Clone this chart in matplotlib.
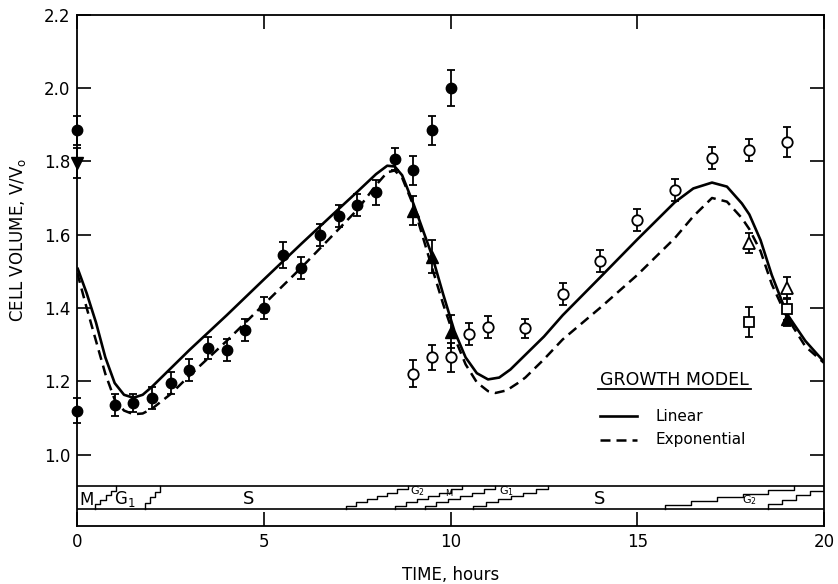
import matplotlib
matplotlib.use("Agg")
import matplotlib.pyplot as plt
import numpy as np

plt.rcParams['font.family'] = ['DejaVu Sans']
plt.rcParams['mathtext.default'] = 'regular'

# ---------------- model curves ----------------
linear_t = [0.0, 0.25, 0.5, 0.75, 1.0, 1.25, 1.5, 1.75, 2.0, 2.5, 3.0, 4.0, 5.0, 6.0, 7.0,
            7.5, 8.0, 8.3, 8.5, 8.7, 9.0, 9.3, 9.5, 9.8, 10.1, 10.4, 10.7, 11.0, 11.3,
            11.6, 12.0, 12.5, 13.0, 14.0, 15.0, 16.0, 16.5, 17.0, 17.4, 17.8, 18.0,
            18.3, 18.6, 19.0, 19.5, 20.0]
linear_v = [1.51, 1.44, 1.36, 1.265, 1.195, 1.163, 1.155, 1.163, 1.185, 1.235, 1.285, 1.38,
            1.478, 1.575, 1.67, 1.717, 1.765, 1.788, 1.786, 1.762, 1.685, 1.60, 1.543,
            1.437, 1.337, 1.265, 1.222, 1.205, 1.21, 1.232, 1.272, 1.322, 1.38, 1.483,
            1.587, 1.688, 1.726, 1.742, 1.731, 1.685, 1.655, 1.585, 1.49, 1.385, 1.31, 1.253]

expo_t = [0.0, 0.25, 0.5, 0.75, 1.0, 1.25, 1.5, 1.75, 2.0, 2.5, 3.0, 4.0, 5.0, 6.0, 7.0,
          7.5, 8.0, 8.3, 8.5, 8.7, 9.0, 9.3, 9.5, 9.8, 10.1, 10.4, 10.7, 11.0, 11.2, 11.5,
          11.8, 12.0, 12.5, 13.0, 14.0, 15.0, 16.0, 16.5, 17.0, 17.4, 17.8, 18.0, 18.3,
          18.6, 19.0, 19.5, 20.0]
expo_v = [1.495, 1.40, 1.31, 1.22, 1.15, 1.12, 1.11, 1.112, 1.125, 1.165, 1.215, 1.31, 1.41,
          1.51, 1.615, 1.668, 1.735, 1.77, 1.775, 1.755, 1.68, 1.578, 1.51, 1.41, 1.32,
          1.246, 1.197, 1.173, 1.168, 1.175, 1.195, 1.21, 1.26, 1.314, 1.40, 1.49, 1.59,
          1.65, 1.70, 1.69, 1.645, 1.615, 1.555, 1.465, 1.376, 1.295, 1.25]

# ---------------- observations ----------------
fcirc_t = [0.0, 0.0, 1.0, 1.5, 2.0, 2.5, 3.0, 3.5, 4.0, 4.5, 5.0, 5.5, 6.0, 6.5, 7.0, 7.5,
           8.0, 8.5, 9.0, 9.5, 10.0]
fcirc_v = [1.12, 1.885, 1.135, 1.14, 1.155, 1.195, 1.23, 1.29, 1.285, 1.34, 1.40, 1.545,
           1.51, 1.60, 1.65, 1.68, 1.715, 1.805, 1.775, 1.885, 2.0]
fcirc_e = [0.035, 0.04, 0.03, 0.025, 0.03, 0.03, 0.03, 0.03, 0.03, 0.03, 0.03, 0.035,
           0.03, 0.03, 0.03, 0.03, 0.035, 0.03, 0.04, 0.04, 0.05]

fvtri_t = [0.0]
fvtri_v = [1.795]
fvtri_e = [0.04]

ftri_t = [9.0, 9.5, 10.0, 19.0]
ftri_v = [1.665, 1.54, 1.335, 1.37]
ftri_e = [0.04, 0.045, 0.045, 0.02]

ocirc_t = [9.0, 9.5, 10.0, 10.5, 11.0, 12.0, 13.0, 14.0, 15.0, 16.0, 17.0, 18.0, 19.0]
ocirc_v = [1.22, 1.265, 1.265, 1.33, 1.348, 1.344, 1.437, 1.527, 1.64, 1.723, 1.81, 1.832, 1.853]
ocirc_e = [0.037, 0.035, 0.04, 0.03, 0.03, 0.025, 0.03, 0.03, 0.03, 0.03, 0.03, 0.03, 0.04]

otri_t = [18.0, 19.0]
otri_v = [1.578, 1.455]
otri_e = [0.027, 0.03]

osq_t = [18.0, 19.0]
osq_v = [1.362, 1.398]
osq_e = [0.04, 0.03]

# ---------------- cell-cycle band ----------------
band_bot = 0.852
band_top = 0.914
stair_start = [0.48, 1.81, 7.2, 8.5, 9.3, 10.6, 15.75, 18.5]
stair_end = [1.04, 2.21, 8.85, 10.3, 11.2, 12.62, 19.2, 20.0]
stair_steps = [4, 3, 6, 6, 6, 6, 5, 4]
phase_labels = ["M", "G$_1$", "S", "G$_2$", "M", "G$_1$", "S", "G$_2$"]
phase_t = [0.26, 1.28, 4.58, 9.1, 9.95, 11.5, 14.0, 18.0]
phase_v = [0.876, 0.88, 0.879, 0.9, 0.893, 0.9, 0.879, 0.875]
phase_size = [12, 12, 13, 8, 6, 8, 13, 8]

x_ticks = [0, 5, 10, 15, 20]
y_ticks = [1.0, 1.2, 1.4, 1.6, 1.8, 2.0, 2.2]
y_ticklabels = ["1.0", "1.2", "1.4", "1.6", "1.8", "2.0", "2.2"]

fig = plt.figure(figsize=(8.38, 5.84), dpi=100)
ax = fig.add_axes([0.0923, 0.0993, 0.8910, 0.8755])

ax.plot(linear_t, linear_v, color='k', lw=1.9, solid_capstyle='butt')
ax.plot(expo_t, expo_v, color='k', lw=1.8, linestyle=(0, (4, 2.4)))

eb = dict(ecolor='k', elinewidth=1.3, capsize=3, capthick=1.3, linestyle='none',
          zorder=3, clip_on=False)
ax.errorbar(fcirc_t, fcirc_v, yerr=fcirc_e, fmt='o', ms=7.5, mfc='k', mec='k', **eb)
ax.errorbar(fvtri_t, fvtri_v, yerr=fvtri_e, fmt='v', ms=8, mfc='k', mec='k', **eb)
ax.errorbar(ftri_t, ftri_v, yerr=ftri_e, fmt='^', ms=8, mfc='k', mec='k', **eb)
ax.errorbar(ocirc_t, ocirc_v, yerr=ocirc_e, fmt='o', ms=7.5, mfc='white', mec='k', mew=1.3, **eb)
ax.errorbar(otri_t, otri_v, yerr=otri_e, fmt='^', ms=8.5, mfc='white', mec='k', mew=1.3, **eb)
ax.errorbar(osq_t, osq_v, yerr=osq_e, fmt='s', ms=7, mfc='white', mec='k', mew=1.3, **eb)

# band lines
ax.hlines([band_bot, band_top], 0, 20, color='k', lw=1.2)
for s, e, n in zip(stair_start, stair_end, stair_steps):
    risers = np.linspace(s, e, n + 1)
    heights = band_bot + (np.arange(n + 1) + 1) * (band_top - band_bot) / (n + 1)
    xs, ys = [risers[0]], [band_bot]
    for k in range(n + 1):
        xs += [risers[k]]
        ys += [heights[k]]
        if k < n:
            xs += [risers[k + 1]]
            ys += [heights[k]]
    ax.plot(xs, ys, color='k', lw=1.0)
for lab, t, v, fs in zip(phase_labels, phase_t, phase_v, phase_size):
    ax.text(t, v, lab, ha='center', va='center', fontsize=fs)

ax.set_xlim(0, 20)
ax.set_ylim(0.805, 2.2)
ax.set_xticks(x_ticks)
ax.set_xticklabels([str(t) for t in x_ticks])
ax.set_yticks(y_ticks)
ax.set_yticklabels(y_ticklabels)
ax.tick_params(direction='in', length=10, width=1.2, top=True, right=True,
               labelsize=12, pad=5)
for sp in ax.spines.values():
    sp.set_linewidth(1.3)

ax.set_ylabel("CELL VOLUME, V/V$_o$", fontsize=12)
ax.yaxis.set_label_coords(-0.066, 0.559)
ax.set_xlabel("TIME, hours", fontsize=12)
ax.xaxis.set_label_coords(0.5, -0.078)

# legend
ttl = ax.text(14.0, 1.203, "GROWTH MODEL", ha='left', va='center', fontsize=12.5)
fig.canvas.draw()
bb = ttl.get_window_extent().transformed(ax.transData.inverted())
ax.plot([bb.x0 - 0.05, bb.x1 + 0.05], [1.179, 1.179], color='k', lw=1.3)
ax.plot([14.0, 15.0], [1.105, 1.105], color='k', lw=1.9)
ax.text(15.48, 1.105, "Linear", ha='left', va='center', fontsize=11)
ax.plot([14.0, 15.0], [1.04, 1.04], color='k', lw=1.8, linestyle=(0, (4, 2.4)))
ax.text(15.48, 1.04, "Exponential", ha='left', va='center', fontsize=11)

fig.savefig("out.png", dpi=100)
